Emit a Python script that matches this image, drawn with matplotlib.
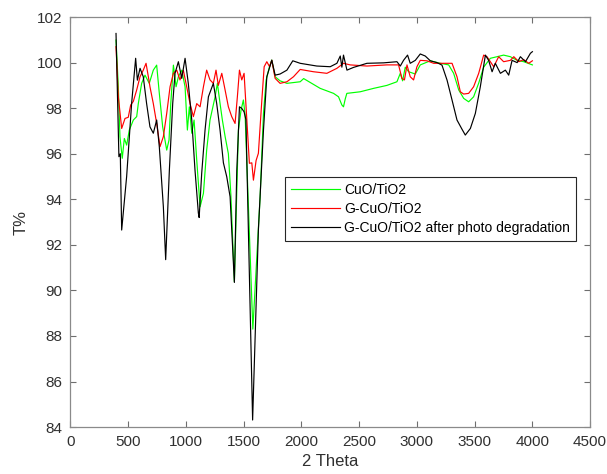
import matplotlib
matplotlib.use("Agg")
import matplotlib.pyplot as plt

plt.rcParams['font.family'] = ['Liberation Sans', 'DejaVu Sans']

# CuO/TiO2
cuo_x = [395, 415, 429, 449, 467, 487, 510, 545, 574, 588, 617, 646, 683, 718, 747,
         770, 799, 834, 854, 869, 892, 915, 935, 964, 993, 1013, 1030, 1051, 1071,
         1094, 1123, 1152, 1180, 1209, 1253, 1273, 1296, 1316, 1340, 1368, 1389,
         1420, 1455, 1478, 1498, 1513, 1580, 1643, 1672, 1695, 1724, 1744, 1773,
         1816, 1875, 1990, 2020, 2163, 2279, 2322, 2351, 2365, 2380, 2394, 2510,
         2626, 2741, 2828, 2857, 2877, 2900, 2929, 2987, 3030, 3117, 3204, 3276,
         3319, 3363, 3406, 3449, 3492, 3536, 3579, 3637, 3695, 3752, 3810, 3869,
         3926, 4001]
cuo_y = [100.99, 98.94, 96.75, 95.8, 96.67, 96.38, 97.04, 97.48, 97.63, 98.2, 99.09,
         99.45, 99.09, 99.67, 99.89, 98.65, 97.18, 96.16, 96.6, 98.2, 99.89, 98.94,
         99.38, 99.67, 98.94, 97.04, 98.06, 96.9, 97.48, 95.72, 93.67, 94.26, 96.16,
         97.48, 98.5, 99.09, 98.2, 97.48, 96.75, 96.0, 94.26, 90.38, 97.04, 97.92,
         98.36, 97.7, 88.3, 94.11, 97.77, 99.23, 99.82, 100.11, 99.38, 99.2, 99.09,
         99.16, 99.3, 98.87, 98.65, 98.5, 98.14, 98.06, 98.4, 98.65, 98.72, 98.87,
         99.0, 99.16, 99.53, 99.2, 99.8, 99.6, 99.5, 99.9, 100.08, 99.97, 99.9,
         99.53, 98.8, 98.43, 98.28, 98.5, 99.1, 99.8, 100.19, 100.26, 100.33,
         100.26, 100.1, 100.04, 99.9]

# G-CuO/TiO2
gcuo_x = [395, 415, 444, 473, 501, 522, 545, 574, 603, 631, 655, 675, 689, 718, 747,
          776, 805, 834, 863, 892, 921, 949, 978, 1007, 1036, 1065, 1094, 1123, 1152,
          1180, 1209, 1238, 1261, 1281, 1311, 1340, 1368, 1397, 1426, 1446, 1464,
          1484, 1504, 1528, 1550, 1571, 1585, 1608, 1628, 1658, 1678, 1701, 1725,
          1744, 1773, 1816, 1875, 1932, 1990, 2105, 2221, 2308, 2365, 2423, 2568,
          2741, 2842, 2871, 2893, 2915, 2943, 2972, 3001, 3030, 3088, 3146, 3233,
          3305, 3348, 3377, 3406, 3449, 3492, 3536, 3579, 3608, 3637, 3666, 3709,
          3752, 3810, 3840, 3883, 3926, 3969, 4001]
gcuo_y = [100.7, 98.5, 97.11, 97.55, 97.6, 98.14, 98.3, 98.8, 99.38, 99.67, 99.97,
          99.38, 98.94, 98.2, 97.33, 96.31, 96.75, 97.77, 98.94, 99.53, 99.67, 99.24,
          99.67, 98.94, 98.2, 97.63, 98.2, 98.06, 98.94, 99.67, 99.24, 99.09, 99.67,
          99.0, 99.53, 98.79, 98.06, 97.63, 97.33, 98.5, 99.67, 99.24, 99.53, 97.48,
          95.58, 95.6, 94.84, 95.7, 96.02, 98.36, 99.82, 100.04, 99.82, 100.1, 99.31,
          99.09, 99.16, 99.38, 99.7, 99.6, 99.53, 99.75, 99.97, 99.9, 99.85, 99.9,
          99.9, 99.31, 99.24, 99.9, 99.38, 99.24, 99.82, 100.1, 100.08, 99.97, 99.97,
          99.97, 99.38, 98.72, 98.62, 98.65, 98.94, 99.53, 100.33, 100.26, 100.04,
          99.82, 100.26, 100.04, 100.1, 100.26, 100.04, 100.13, 99.97, 100.08]

# G-CuO/TiO2 after photo degradation
deg_x = [395, 420, 432, 444, 487, 530, 565, 580, 603, 631, 660, 689, 718, 747, 770,
         805, 825, 857, 886, 906, 935, 964, 993, 1021, 1051, 1079, 1108, 1115, 1137,
         1166, 1195, 1238, 1267, 1296, 1325, 1354, 1383, 1420, 1441, 1464, 1484,
         1504, 1520, 1578, 1628, 1672, 1701, 1744, 1773, 1816, 1875, 1926, 1990,
         2134, 2250, 2308, 2337, 2351, 2365, 2395, 2452, 2568, 2712, 2828, 2857,
         2885, 2920, 2943, 2987, 3030, 3073, 3117, 3175, 3218, 3262, 3305, 3348,
         3392, 3420, 3464, 3507, 3550, 3594, 3622, 3652, 3680, 3724, 3767, 3796,
         3825, 3869, 3897, 3941, 3984, 4001]
deg_y = [101.28, 95.87, 96.0, 92.65, 95.0, 98.2, 100.19, 99.23, 99.75, 99.38, 98.2,
         97.18, 96.9, 97.48, 96.3, 93.67, 91.35, 95.28, 98.21, 99.53, 100.04, 99.31,
         100.19, 99.09, 97.48, 95.28, 93.4, 93.2, 95.14, 97.04, 98.5, 99.09, 98.2,
         97.04, 95.6, 94.99, 94.11, 90.35, 95.28, 98.06, 97.99, 97.84, 97.5, 84.31,
         92.65, 97.04, 99.38, 100.11, 99.45, 99.5, 99.67, 100.08, 99.97, 99.85,
         99.82, 99.97, 100.29, 99.8, 100.33, 99.67, 99.79, 99.97, 99.99, 100.04,
         99.85, 100.1, 100.33, 99.97, 100.1, 100.38, 100.29, 100.08, 100.0, 99.89,
         99.23, 98.36, 97.48, 97.07, 96.82, 97.11, 97.77, 98.94, 100.33, 100.1, 99.6,
         99.97, 99.53, 99.67, 99.45, 100.1, 100.0, 100.26, 100.04, 100.41, 100.48]

fig = plt.figure(figsize=(6.07, 4.74), dpi=100)
ax = fig.add_axes([0.116, 0.099, 0.856, 0.865])

ax.plot(cuo_x, cuo_y, color='#00ff00', lw=0.85, label='CuO/TiO2')
ax.plot(gcuo_x, gcuo_y, color='#ff0000', lw=0.85, label='G-CuO/TiO2')
ax.plot(deg_x, deg_y, color='black', lw=0.85, label='G-CuO/TiO2 after photo degradation')

ax.set_xlim(0, 4500)
ax.set_ylim(84, 102)
ax.set_xticks(range(0, 4501, 500))
ax.set_yticks(range(84, 103, 2))
ax.tick_params(direction='in', top=True, right=True, length=4, width=0.8,
               color='#6e6e6e', labelcolor='#303030', labelsize=11, pad=6)
for s in ax.spines.values():
    s.set_color('#8a8a8a')
    s.set_linewidth(0.9)

ax.set_xlabel('2 Theta', fontsize=12, color='#303030', labelpad=3)
ax.set_ylabel('T%', fontsize=12, color='#303030', labelpad=6)

leg = ax.legend(loc='upper left', bbox_to_anchor=(0.4, 0.627), fontsize=10,
                handlelength=3.5, handletextpad=0.3, borderpad=0.45, labelspacing=0.35,
                fancybox=False, framealpha=1)
leg.get_frame().set_edgecolor('#262626')
leg.get_frame().set_linewidth(0.8)

fig.savefig('out.png', dpi=100)
